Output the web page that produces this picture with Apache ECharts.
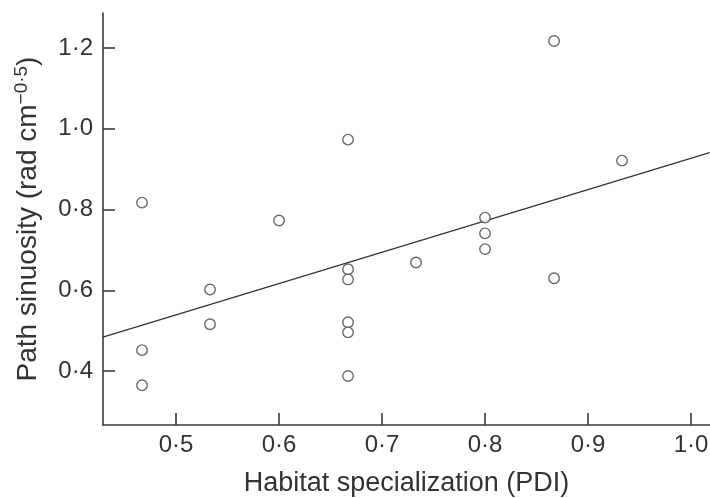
<!DOCTYPE html>
<html><head><meta charset="utf-8">
<script src="https://cdn.jsdelivr.net/npm/echarts@6/dist/echarts.min.js"></script>
<style>html,body{margin:0;padding:0;background:#fff}#c{width:710px;height:498px}</style>
</head><body><div id="c"></div>
<script>
// PDI (x) values and path sinuosity (y) values
var pdi = [0.467,0.467,0.467,0.533,0.533,0.600,0.667,0.667,0.667,0.667,0.667,0.667,0.733,0.800,0.800,0.800,0.867,0.867,0.933];
var sinuosity = [0.817,0.452,0.365,0.602,0.516,0.773,0.973,0.652,0.627,0.521,0.496,0.388,0.669,0.780,0.741,0.702,1.217,0.630,0.921];
// fitted regression line end points
var fitX = [0.429,1.018];
var fitY = [0.484,0.941];
var xTicks = [0.5,0.6,0.7,0.8,0.9,1.0];
var yTicks = [0.4,0.6,0.8,1.0,1.2];

var pts = pdi.map(function(x,i){return [x,sinuosity[i]];});
var fit = fitX.map(function(x,i){return [x,fitY[i]];});
function fmt(v){return v.toFixed(1).replace('.','\u00B7');}
var font = 'Liberation Sans, Arial, Helvetica, sans-serif';
var axisCol = '#3a3a3a';
var chart = echarts.init(document.getElementById('c'), null, {renderer:'canvas'});
chart.setOption({
  animation:false,
  backgroundColor:'#fff',
  grid:{left:103, right:0, top:13, bottom:73, containLabel:false, outerBoundsMode:'none'},
  xAxis:{
    type:'value', min:0.4291, max:1.0184,
    splitLine:{show:false},
    axisLine:{onZero:false, lineStyle:{color:axisCol,width:1.6}},
    axisTick:{inside:true, length:12, customValues:xTicks, lineStyle:{color:axisCol,width:1.6}},
    axisLabel:{customValues:xTicks, formatter:fmt, fontFamily:font, fontSize:24, color:'#333', margin:8},
    name:'Habitat specialization (PDI)', nameLocation:'middle', nameGap:45,
    nameTextStyle:{fontFamily:font, fontSize:27, color:'#333'}
  },
  yAxis:{
    type:'value', min:0.2667, max:1.2864,
    splitLine:{show:false},
    axisLine:{onZero:false, lineStyle:{color:axisCol,width:1.6}},
    axisTick:{inside:true, length:12, customValues:yTicks, lineStyle:{color:axisCol,width:1.6}},
    axisLabel:{customValues:yTicks, formatter:fmt, fontFamily:font, fontSize:24, color:'#333', margin:10},
    name:'{n|Path sinuosity (rad cm}{s|\u22120\u00B75}{n|)}', nameLocation:'middle', nameGap:59, nameRotate:90,
    nameTextStyle:{fontFamily:font, fontSize:28, color:'#333',
      rich:{n:{fontFamily:font, fontSize:28, color:'#333'},
            s:{fontFamily:font, fontSize:19, color:'#333', padding:[0,0,13,0]}}}
  },
  series:[
    {type:'line', data:fit, showSymbol:false, symbol:'none', lineStyle:{color:'#333',width:1.3}, z:2, silent:true},
    {type:'scatter', data:pts, symbol:'circle', symbolSize:10.5,
     itemStyle:{color:'#fff', borderColor:'#444', borderWidth:1.4}, z:3}
  ]
});
</script></body></html>
